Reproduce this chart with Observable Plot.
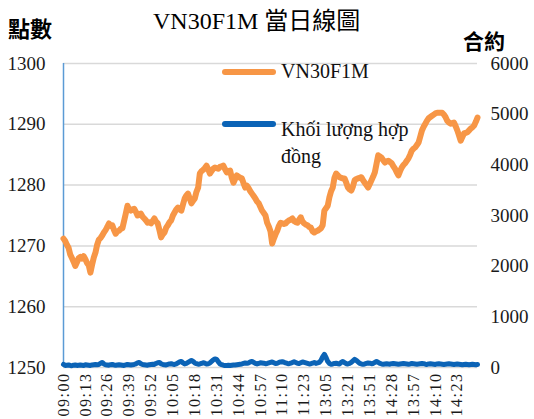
<!DOCTYPE html>
<html><head><meta charset="utf-8">
<script src="https://cdn.jsdelivr.net/npm/d3@7"></script>
<script src="https://cdn.jsdelivr.net/npm/@observablehq/plot@0.6"></script>
<style>
body{margin:0;background:#fff;}
#wrap{position:relative;width:534px;height:419px;overflow:hidden;font-family:"Times New Roman","Liberation Serif",serif;}
#wrap svg{position:absolute;left:0;top:0;}
.t{position:absolute;white-space:nowrap;line-height:1;}
#title{left:153px;top:7px;font-size:24px;color:#000;font-family:"Times New Roman","Liberation Serif",serif;}
#title .cjk{font-family:"Noto Sans CJK TC",sans-serif;}
#yl{left:8px;top:16px;font-size:22px;font-weight:700;font-family:"Noto Sans CJK TC",sans-serif;color:#000;}
#yr{left:463px;top:30px;font-size:21px;font-weight:700;font-family:"Noto Sans CJK TC",sans-serif;color:#000;}
.leg{position:absolute;font-size:20px;color:#111;line-height:27px;white-space:nowrap;font-family:"Times New Roman","Liberation Serif",serif;}
.sw{position:absolute;height:6px;border-radius:3px;width:54px;}
</style></head><body>
<div id="wrap">
  <div class="t" id="title">VN30F1M <span class="cjk">當日線圖</span></div>
  <div class="t" id="yl">點數</div>
  <div class="t" id="yr">合約</div>
</div>
<script>
const seriesNames = ["VN30F1M", "Khối lượng hợp đồng"];
const tickLabels = ["09:00","09:13","09:26","09:39","09:52","10:05","10:18","10:31","10:44","10:57","11:10","11:23","13:05","13:21","13:51","14:28","13:57","14:10","14:23"];
const priceTicks = [1250,1260,1270,1280,1290,1300];
const volTicks = [0,1000,2000,3000,4000,5000,6000];

const price = [
1271.2,1270.8,1270.2,1269.7,1268.6,1268.0,1267.4,1266.7,1267.3,1268.0,
1268.2,1267.9,1268.3,1267.8,1267.2,1266.8,1265.6,1266.9,1268.1,1268.9,
1270.2,1271.0,1271.3,1271.7,1272.2,1272.6,1273.1,1273.7,1273.3,1273.4,
1272.6,1272.0,1272.4,1272.5,1272.8,1272.9,1274.1,1275.3,1276.6,1276.0,
1275.8,1276.0,1276.1,1275.6,1275.0,1275.2,1275.3,1274.8,1274.5,1274.2,
1273.8,1273.9,1273.7,1274.1,1274.5,1274.0,1273.7,1272.6,1271.4,1271.9,
1272.2,1273.0,1273.4,1273.9,1274.2,1275.0,1275.5,1276.0,1276.3,1276.0,
1275.8,1276.8,1277.8,1278.3,1278.6,1277.8,1277.0,1277.4,1277.8,1278.9,
1279.6,1281.9,1282.3,1282.5,1282.8,1283.2,1282.6,1281.9,1282.3,1282.7,
1282.9,1282.8,1282.7,1283.0,1283.1,1283.2,1282.6,1282.1,1282.3,1282.4,
1281.2,1280.4,1281.0,1281.6,1281.4,1281.2,1281.1,1280.3,1279.6,1279.9,
1279.5,1279.0,1278.6,1278.2,1277.8,1277.3,1277.0,1276.4,1275.8,1275.4,
1275.0,1273.8,1273.2,1272.4,1270.4,1271.2,1271.9,1272.5,1273.3,1273.8,
1273.7,1273.6,1273.7,1274.0,1274.2,1274.3,1274.5,1274.1,1273.9,1273.8,
1274.3,1274.7,1274.0,1273.7,1273.5,1273.4,1273.1,1273.0,1272.4,1272.2,
1272.4,1272.5,1272.7,1272.9,1273.4,1275.8,1276.2,1276.6,1278.0,1279.0,
1279.6,1281.2,1281.9,1281.6,1281.3,1281.2,1281.1,1281.1,1280.4,1279.6,
1279.3,1279.1,1279.8,1280.8,1281.0,1281.1,1281.2,1281.3,1280.8,1280.4,
1280.0,1279.6,1280.2,1280.8,1281.4,1282.1,1283.5,1284.9,1284.7,1284.5,
1284.1,1283.7,1283.9,1284.0,1283.8,1283.6,1283.1,1282.7,1282.1,1281.6,
1282.3,1282.9,1283.3,1283.6,1284.0,1284.4,1285.0,1285.7,1286.0,1286.2,
1286.6,1287.0,1288.0,1289.0,1289.6,1290.1,1290.6,1291.0,1291.2,1291.4,
1291.6,1291.8,1291.9,1291.9,1291.9,1291.9,1291.6,1291.2,1290.6,1290.3,
1290.1,1290.2,1290.3,1289.7,1289.0,1288.2,1287.3,1287.9,1288.5,1288.6,
1288.7,1289.0,1289.3,1289.5,1289.8,1290.4,1291.1
];

const volume = [
60,40,45,50,40,35,45,50,40,45,
50,45,40,55,50,45,40,50,55,60,
55,60,80,100,70,55,50,45,55,60,
50,45,50,55,50,45,40,50,60,55,
50,55,60,70,90,100,75,60,55,50,
45,55,60,65,60,80,95,100,70,60,
55,50,60,70,75,65,60,70,90,110,
120,90,70,80,100,120,140,120,90,75,
65,70,80,95,85,70,75,90,120,150,
170,160,110,70,55,45,40,40,45,40,
45,50,50,55,60,65,70,80,90,85,
90,110,120,100,80,70,80,95,90,85,
75,80,90,100,110,95,80,85,100,110,
115,105,90,80,75,85,100,115,100,85,
80,95,110,100,90,80,70,75,85,100,
80,90,100,140,210,260,200,120,80,65,
70,80,85,75,70,100,120,95,75,70,
80,100,130,160,140,110,80,70,65,70,
80,90,85,75,80,100,120,100,80,70,
65,70,75,70,65,75,80,75,70,65,
70,75,80,75,70,65,70,80,75,70,
65,70,75,80,75,65,60,70,75,70,
65,60,70,75,70,65,60,65,70,75,
70,65,60,65,70,65,60,55,60,65,
60,55,60,65,60,55,60
];

const ORANGE = "#f79646", BLUE = "#0b63b6";
const SERIF = "Times New Roman, Liberation Serif, serif";
const pMin = priceTicks[0], pMax = priceTicks[priceTicks.length-1];
const vMax = volTicks[volTicks.length-1];
const volToY = v => pMin + v / vMax * (pMax - pMin);
const yToVol = y => String(Math.round((y - pMin) / (pMax - pMin) * vMax));

const data = price.map((p, i) => ({i, price: p, vol: volume[i]}));
const tickIdx = tickLabels.map((_, k) => k * 13);

const chart = Plot.plot({
  width: 534, height: 419,
  marginLeft: 63, marginRight: 57, marginTop: 63, marginBottom: 52,
  x: {domain: [0, price.length - 1]},
  y: {domain: [pMin, pMax]},
  style: {fontFamily: SERIF, color: "#1a1a1a", background: "transparent", overflow: "visible"},
  marks: [
    Plot.gridY(priceTicks, {stroke: "#d9d9d9", strokeOpacity: 1, strokeWidth: 1.5}),
    Plot.axisY(priceTicks, {anchor: "left", tickSize: 0, tickPadding: 18, fontSize: 19, fontFamily: SERIF, tickFormat: d => String(d), label: null}),
    Plot.axisY(volTicks.map(volToY), {anchor: "right", tickSize: 0, tickPadding: 13, fontSize: 19, fontFamily: SERIF, tickFormat: yToVol, label: null}),
    Plot.axisX(tickIdx, {tickSize: 0, tickPadding: 5, tickRotate: -90, fontSize: 16, fontFamily: SERIF, tickFormat: (d) => tickLabels[d / 13], label: null}),
    Plot.ruleX([0], {stroke: "#5b9bd5", strokeWidth: 1.5}),
    Plot.lineY(data, {x: "i", y: d => volToY(d.vol), stroke: BLUE, strokeWidth: 5, curve: "linear"}),
    Plot.lineY(data, {x: "i", y: "price", stroke: ORANGE, strokeWidth: 6, curve: "linear"})
  ]
});
const wrap = document.getElementById("wrap");
wrap.insertBefore(chart, wrap.firstChild);
chart.querySelectorAll('g[aria-label="x-axis tick label"] text').forEach(t => t.setAttribute("letter-spacing", "1.5"));

// legend (HTML)
const legendItems = [
  {name: seriesNames[0], color: ORANGE, top: 69, textTop: 58},
  {name: "Khối lượng hợp<br>đồng", color: BLUE, top: 121, textTop: 116}
];
legendItems.forEach(it => {
  const sw = document.createElement("div");
  sw.className = "sw"; sw.style.left = "222px"; sw.style.top = it.top + "px"; sw.style.background = it.color;
  wrap.appendChild(sw);
  const tx = document.createElement("div");
  tx.className = "leg"; tx.style.left = "281px"; tx.style.top = it.textTop + "px"; tx.innerHTML = it.name;
  wrap.appendChild(tx);
});
</script>
</body></html>
